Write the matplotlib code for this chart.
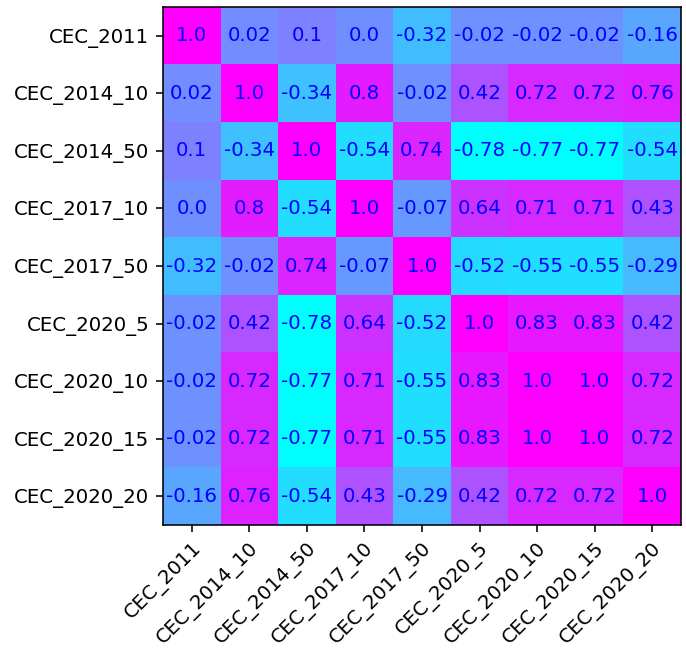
import numpy as np
import matplotlib
matplotlib.use("Agg")
import matplotlib.pyplot as plt

# Correlation between benchmark suites
suites = ["CEC_2011", "CEC_2014_10", "CEC_2014_50", "CEC_2017_10", "CEC_2017_50",
          "CEC_2020_5", "CEC_2020_10", "CEC_2020_15", "CEC_2020_20"]

row_2011 = [1.0, 0.02, 0.1, 0.0, -0.32, -0.02, -0.02, -0.02, -0.16]
row_2014_10 = [0.02, 1.0, -0.34, 0.8, -0.02, 0.42, 0.72, 0.72, 0.76]
row_2014_50 = [0.1, -0.34, 1.0, -0.54, 0.74, -0.78, -0.77, -0.77, -0.54]
row_2017_10 = [0.0, 0.8, -0.54, 1.0, -0.07, 0.64, 0.71, 0.71, 0.43]
row_2017_50 = [-0.32, -0.02, 0.74, -0.07, 1.0, -0.52, -0.55, -0.55, -0.29]
row_2020_5 = [-0.02, 0.42, -0.78, 0.64, -0.52, 1.0, 0.83, 0.83, 0.42]
row_2020_10 = [-0.02, 0.72, -0.77, 0.71, -0.55, 0.83, 1.0, 1.0, 0.72]
row_2020_15 = [-0.02, 0.72, -0.77, 0.71, -0.55, 0.83, 1.0, 1.0, 0.72]
row_2020_20 = [-0.16, 0.76, -0.54, 0.43, -0.29, 0.42, 0.72, 0.72, 1.0]

corr = np.array([row_2011, row_2014_10, row_2014_50, row_2017_10, row_2017_50,
                 row_2020_5, row_2020_10, row_2020_15, row_2020_20])

dpi = 142
fig = plt.figure(figsize=(686 / dpi, 649 / dpi), dpi=dpi)
ax = fig.add_axes([163 / 686, 1 - 525 / 649, 518 / 686, 518 / 649])

ax.imshow(corr, cmap="cool", aspect="auto")

n = len(suites)
for i in range(n):
    for j in range(n):
        ax.text(j, i, str(corr[i, j]), ha="center", va="center", color="b")

ax.set_xticks(range(n))
ax.set_yticks(range(n))
ax.set_xticklabels(suites)
ax.set_yticklabels(suites)
plt.setp(ax.get_xticklabels(), rotation=45, ha="right", rotation_mode="anchor")

fig.savefig("out.png", dpi=dpi)
